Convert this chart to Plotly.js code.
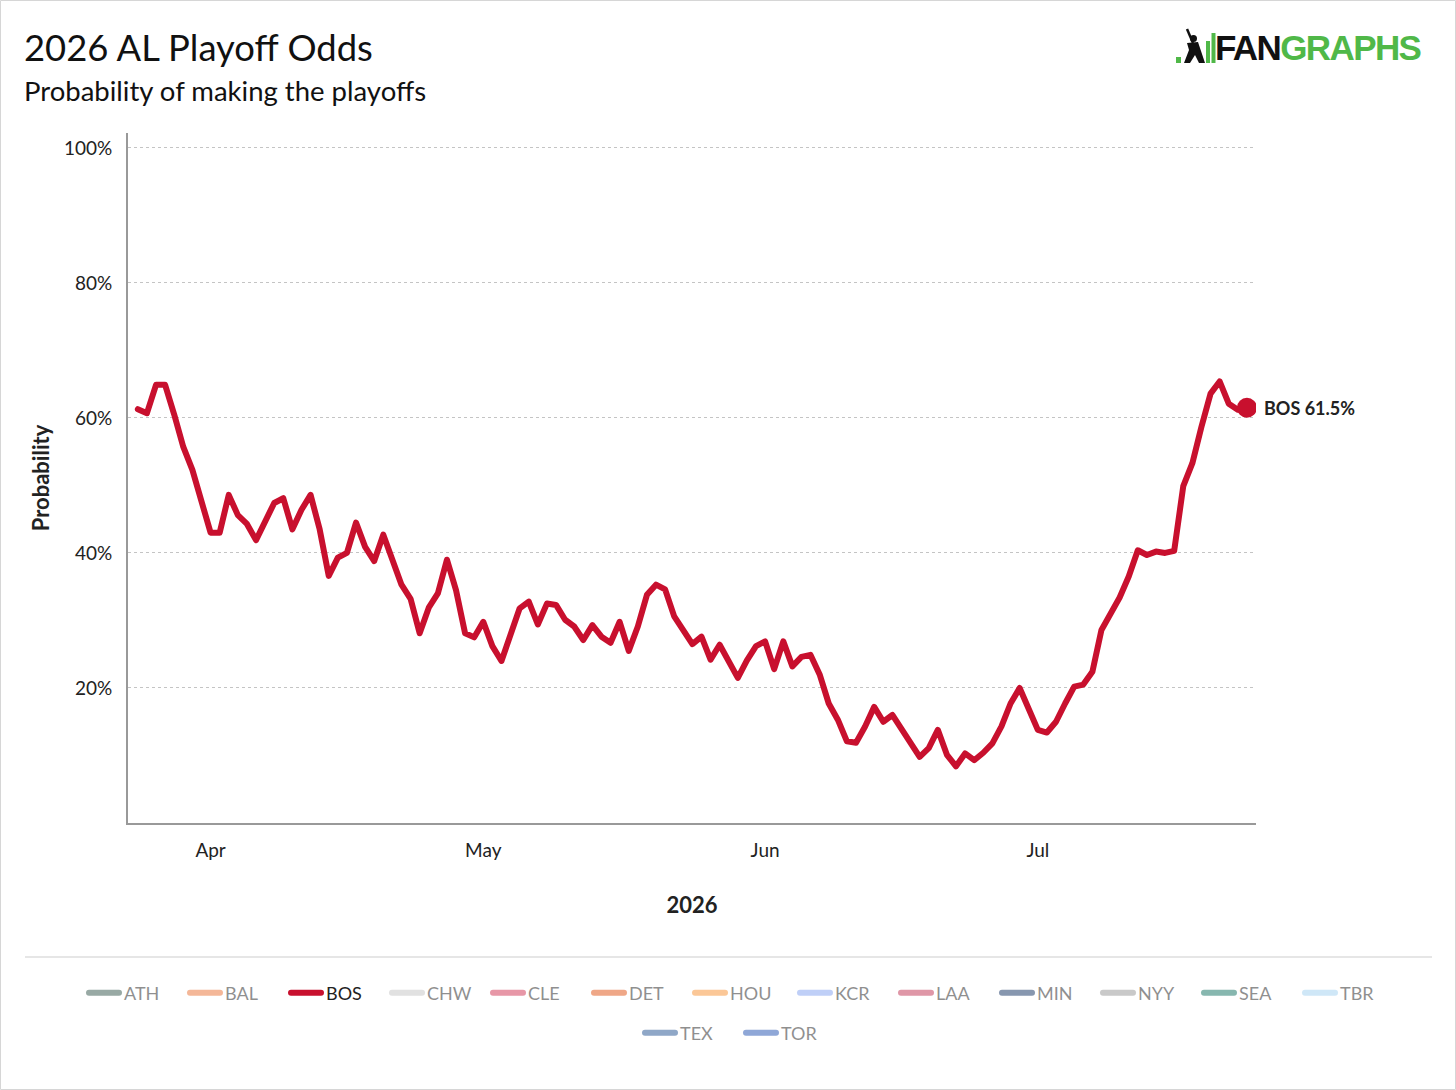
<!DOCTYPE html>
<html>
<head>
<meta charset="utf-8">
<script src="https://cdn.plot.ly/plotly-3.0.1.min.js"></script>
<style>
html, body { margin: 0; padding: 0; background: #fff; }
#chart { width: 1456px; height: 1090px; }
#chart .js-line { stroke-linejoin: round; stroke-linecap: round; }
</style>
</head>
<body>
<div id="chart"></div>
<script>
// Boston daily playoff odds (%), one value per day starting startDate
var startDate = '2026-03-24';
var bosOdds = [
    61.3, 60.7, 64.9, 64.9, 60.5, 55.7, 52.3, 47.5, 43.0, 43.0,
    48.6, 45.6, 44.3, 41.9, 44.9, 47.4, 48.1, 43.5, 46.4, 48.6,
    43.5, 36.6, 39.3, 40.0, 44.5, 40.9, 38.8, 42.7, 39.0, 35.3,
    33.2, 28.1, 31.9, 34.0, 39.0, 34.5, 28.1, 27.5, 29.8, 26.2,
    24.0, 27.9, 31.8, 32.8, 29.4, 32.5, 32.3, 30.1, 29.1, 27.1,
    29.3, 27.6, 26.7, 29.8, 25.5, 29.1, 33.8, 35.3, 34.6, 30.6,
    28.6, 26.5, 27.6, 24.2, 26.4, 23.8, 21.5, 24.1, 26.2, 26.9,
    22.8, 26.9, 23.2, 24.6, 24.9, 22.0, 17.7, 15.3, 12.1, 11.9,
    14.3, 17.2, 15.0, 16.0, 14.0, 12.0, 9.8, 11.1, 13.8, 10.1,
    8.4, 10.3, 9.3, 10.4, 11.8, 14.3, 17.7, 20.0, 16.7, 13.8,
    13.4, 15.0, 17.7, 20.2, 20.5, 22.4, 28.6, 31.1, 33.4, 36.5,
    40.4, 39.7, 40.2, 40.0, 40.3, 49.9, 53.3, 58.7, 63.6, 65.4,
    62.1, 61.2, 61.5
];

var teams = ['ATH', 'BAL', 'BOS', 'CHW', 'CLE', 'DET', 'HOU', 'KCR', 'LAA',
             'MIN', 'NYY', 'SEA', 'TBR', 'TEX', 'TOR'];
var teamColors = ['#33554b', '#eb7133', '#c8102e', '#c4c4c4', '#d13151', '#e15111',
                  '#f99131', '#81a1f1', '#c13151', '#113161', '#959595', '#117161',
                  '#a1d1f1', '#215191', '#2151b1'];
// which legend block each team sits in (row 1 is split in two blocks)
var teamLegend = ['legend', 'legend', 'legend', 'legend', 'legend', 'legend', 'legend',
                  'legend2', 'legend2', 'legend2', 'legend2', 'legend2', 'legend2',
                  'legend3', 'legend3'];
var shownTeam = 'BOS';

var monthTicks = ['2026-04-01', '2026-05-01', '2026-06-01', '2026-07-01'];
var monthLabels = ['Apr', 'May', 'Jun', 'Jul'];
var probTicks = [20, 40, 60, 80, 100];
var probLabels = ['20%', '40%', '60%', '80%', '100%'];

function dayList(start, n) {
    var out = [];
    var t0 = new Date(start + 'T00:00:00Z').getTime();
    for (var i = 0; i < n; i++) {
        out.push(new Date(t0 + i * 86400000).toISOString().slice(0, 10));
    }
    return out;
}
var dates = dayList(startDate, bosOdds.length);
var last = bosOdds.length - 1;

// plot area in pixels, used to place decorations
var L = 128, R = 1256, T = 133, B = 823;
function px(x) { return (x - L) / (R - L); }
function py(y) { return (B - y) / (B - T); }

var font = 'Lato, "Open Sans", sans-serif';

// hidden teams keep a single empty point so they stay in the legend
var traces = teams.map(function(team, i) {
    var shown = team === shownTeam;
    return {
        x: shown ? dates : [startDate],
        y: shown ? bosOdds : [null],
        type: 'scatter',
        mode: 'lines',
        name: team,
        line: {color: teamColors[i], width: 6},
        visible: shown ? true : 'legendonly',
        legend: teamLegend[i],
        hoverinfo: 'skip'
    };
});
var bosColor = teamColors[teams.indexOf(shownTeam)];
traces.push({
    x: [dates[last]],
    y: [bosOdds[last]],
    type: 'scatter',
    mode: 'markers',
    marker: {size: 20, color: bosColor},
    showlegend: false,
    hoverinfo: 'skip'
});

function legendAt(left, middle) {
    return {
        orientation: 'h',
        xref: 'container', yref: 'container',
        x: left / 1456, xanchor: 'left',
        y: 1 - middle / 1090, yanchor: 'middle',
        font: {family: font, size: 18, color: '#222'},
        itemwidth: 30,
        entrywidth: 56,
        entrywidthmode: 'pixels',
        traceorder: 'normal',
        bgcolor: 'rgba(0,0,0,0)'
    };
}

var layout = {
    width: 1456,
    height: 1090,
    margin: {l: L, r: 1456 - R, t: T, b: 1090 - B},
    paper_bgcolor: '#fff',
    plot_bgcolor: '#fff',
    font: {family: font, color: '#222'},
    title: {
        text: '2026 AL Playoff Odds',
        xref: 'container', yref: 'container',
        x: 24 / 1456, xanchor: 'left',
        y: 1 - 48 / 1090, yanchor: 'middle',
        font: {family: font, size: 36.4, color: '#111'}
    },
    xaxis: {
        type: 'date',
        range: ['2026-03-22 22:00', '2026-07-25 00:00'],
        tickvals: monthTicks,
        ticktext: monthLabels,
        ticks: '',
        ticklabelstandoff: 9,
        tickfont: {family: font, size: 19, color: '#222'},
        showgrid: false,
        zeroline: false,
        showline: true,
        linecolor: '#999',
        linewidth: 2,
        title: {text: '<b>2026</b>', standoff: 38, font: {family: font, size: 22, color: '#222'}},
        fixedrange: true
    },
    yaxis: {
        range: [0, 102.2],
        tickvals: probTicks,
        ticktext: probLabels,
        ticks: '',
        ticklabelstandoff: 10,
        tickfont: {family: font, size: 19, color: '#222'},
        showgrid: true,
        gridcolor: '#c4c4c4',
        gridwidth: 1,
        griddash: '3px,3px',
        zeroline: false,
        showline: true,
        linecolor: '#999',
        linewidth: 2,
        title: {text: '<b>Probability</b>', standoff: 8, font: {family: font, size: 22, color: '#222'}},
        fixedrange: true
    },
    legend: legendAt(84, 993),
    legend2: legendAt(795, 993),
    legend3: legendAt(640, 1033),
    showlegend: true,
    annotations: [
        {
            xref: 'paper', yref: 'paper',
            x: px(22), y: py(90), xanchor: 'left', yanchor: 'middle',
            text: 'Probability of making the playoffs',
            showarrow: false,
            font: {family: font, size: 27.5, color: '#111'}
        },
        {
            xref: 'x', yref: 'y',
            x: dates[last], y: bosOdds[last],
            xanchor: 'left', yanchor: 'middle', xshift: 15,
            text: '<b>' + shownTeam + ' ' + bosOdds[last].toFixed(1) + '%</b>',
            showarrow: false,
            font: {family: font, size: 18, color: '#222'}
        },
        {
            xref: 'paper', yref: 'paper',
            x: px(1423), y: py(48), xanchor: 'right', yanchor: 'middle',
            text: '<b><span style="color:#111;letter-spacing:-1.6px">FAN</span><span style="color:#50b848;letter-spacing:-1.6px">GRAPHS</span></b>',
            showarrow: false,
            font: {family: '"Liberation Sans", Arial, sans-serif', size: 35}
        }
    ],
    shapes: [
        // legend separator
        {type: 'line', xref: 'paper', yref: 'paper', x0: px(25), x1: px(1432), y0: py(957), y1: py(957),
         line: {color: '#e6e6e6', width: 2}},
        // outer frame
        {type: 'rect', xref: 'paper', yref: 'paper', x0: px(0.5), x1: px(1455.5), y0: py(1089.5), y1: py(0.5),
         line: {color: '#d6d6d6', width: 1}},
        // logo mark: green dot, batter, two bars
        {type: 'rect', xref: 'paper', yref: 'paper', x0: px(1176), x1: px(1181), y0: py(63), y1: py(57),
         fillcolor: '#50b848', line: {width: 0}},
        {type: 'path', xref: 'paper', yref: 'paper',
         path: 'M' + px(1184) + ',' + py(63) + ' L' + px(1189) + ',' + py(50) + ' L' + px(1187) + ',' + py(43) +
               ' L' + px(1198) + ',' + py(42) + ' L' + px(1201) + ',' + py(51) + ' L' + px(1205) + ',' + py(63) +
               ' L' + px(1199) + ',' + py(63) + ' L' + px(1195) + ',' + py(55) + ' L' + px(1190) + ',' + py(63) + ' Z',
         fillcolor: '#111', line: {width: 0}},
        {type: 'circle', xref: 'paper', yref: 'paper', x0: px(1190), x1: px(1197), y0: py(42), y1: py(35),
         fillcolor: '#111', line: {width: 0}},
        {type: 'line', xref: 'paper', yref: 'paper', x0: px(1187), x1: px(1193), y0: py(29), y1: py(43),
         line: {color: '#111', width: 2.5}},
        {type: 'rect', xref: 'paper', yref: 'paper', x0: px(1206), x1: px(1210), y0: py(63), y1: py(41),
         fillcolor: '#50b848', line: {width: 0}},
        {type: 'rect', xref: 'paper', yref: 'paper', x0: px(1211.5), x1: px(1215.5), y0: py(63), y1: py(33),
         fillcolor: '#50b848', line: {width: 0}}
    ]
};

Plotly.newPlot('chart', traces, layout, {displayModeBar: false, staticPlot: true});
</script>
</body>
</html>
